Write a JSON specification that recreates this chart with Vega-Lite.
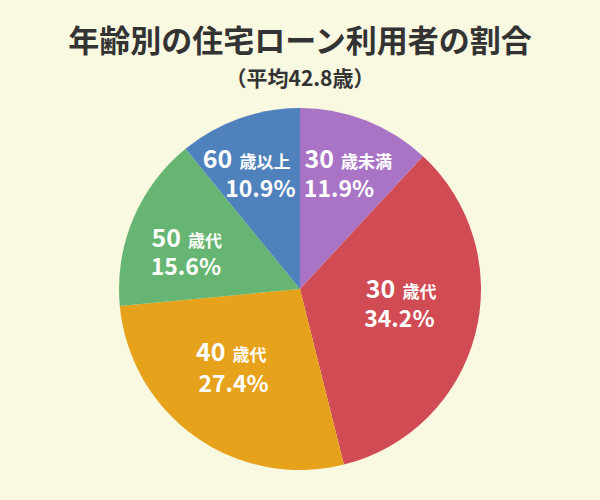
{
  "$schema": "https://vega.github.io/schema/vega-lite/v6.json",
  "width": 600,
  "height": 362,
  "autosize": {"type": "none"},
  "padding": {"top": 108, "left": 0, "right": 0, "bottom": 30},
  "background": "#f9f8e1",
  "title": {
    "text": "年齢別の住宅ローン利用者の割合",
    "subtitle": "（平均42.8歳）",
    "anchor": "middle",
    "font": "Noto Sans CJK JP",
    "fontSize": 31,
    "fontWeight": "bold",
    "color": "#333333",
    "subtitleFont": "Noto Sans CJK JP",
    "subtitleFontSize": 21,
    "subtitleFontWeight": "bold",
    "subtitleColor": "#333333",
    "subtitlePadding": 10,
    "offset": 17
  },
  "config": {
    "view": {"stroke": null},
    "text": {"font": "Noto Sans CJK JP", "fontWeight": "bold", "fill": "#ffffff", "baseline": "alphabetic"}
  },
  "data": {
    "values": [
      {"category": "30歳未満", "num": "30", "kanji": "歳未満", "pct": 11.9, "pctText": "11.9%", "order": 1},
      {"category": "30歳代", "num": "30", "kanji": "歳代", "pct": 34.2, "pctText": "34.2%", "order": 2},
      {"category": "40歳代", "num": "40", "kanji": "歳代", "pct": 27.4, "pctText": "27.4%", "order": 3},
      {"category": "50歳代", "num": "50", "kanji": "歳代", "pct": 15.6, "pctText": "15.6%", "order": 4},
      {"category": "60歳以上", "num": "60", "kanji": "歳以上", "pct": 10.9, "pctText": "10.9%", "order": 5}
    ]
  },
  "encoding": {
    "theta": {"field": "pct", "type": "quantitative", "stack": true},
    "order": {"field": "order", "type": "quantitative"}
  },
  "layer": [
    {
      "mark": {"type": "arc", "radius": 181},
      "encoding": {
        "color": {
          "field": "category",
          "type": "nominal",
          "scale": {
            "domain": ["30歳未満", "30歳代", "40歳代", "50歳代", "60歳以上"],
            "range": ["#a974c5", "#d14b55", "#e6a21b", "#67b572", "#4f81bd"]
          },
          "legend": null
        }
      }
    },
    {"mark": {"type": "text", "radius": 115, "align": "right", "dx": -8, "dy": -14, "fontSize": 25},
     "encoding": {"text": {"condition": {"test": "datum.order === 1", "field": "num"}, "value": ""}}},
    {"mark": {"type": "text", "radius": 115, "align": "left", "dx": -1, "dy": -14, "fontSize": 17},
     "encoding": {"text": {"condition": {"test": "datum.order === 1", "field": "kanji"}, "value": ""}}},
    {"mark": {"type": "text", "radius": 115, "align": "center", "dx": -3, "dy": 15, "fontSize": 23},
     "encoding": {"text": {"condition": {"test": "datum.order === 1", "field": "pctText"}, "value": ""}}},

    {"mark": {"type": "text", "radius": 115, "align": "right", "dx": -16, "dy": -20, "fontSize": 25},
     "encoding": {"text": {"condition": {"test": "datum.order === 2", "field": "num"}, "value": ""}}},
    {"mark": {"type": "text", "radius": 115, "align": "left", "dx": -9, "dy": -20, "fontSize": 17},
     "encoding": {"text": {"condition": {"test": "datum.order === 2", "field": "kanji"}, "value": ""}}},
    {"mark": {"type": "text", "radius": 115, "align": "center", "dx": -12, "dy": 9, "fontSize": 23},
     "encoding": {"text": {"condition": {"test": "datum.order === 2", "field": "pctText"}, "value": ""}}},

    {"mark": {"type": "text", "radius": 115, "align": "right", "dx": -8, "dy": -22, "fontSize": 25},
     "encoding": {"text": {"condition": {"test": "datum.order === 3", "field": "num"}, "value": ""}}},
    {"mark": {"type": "text", "radius": 115, "align": "left", "dx": -1, "dy": -22, "fontSize": 17},
     "encoding": {"text": {"condition": {"test": "datum.order === 3", "field": "kanji"}, "value": ""}}},
    {"mark": {"type": "text", "radius": 115, "align": "center", "dx": 0, "dy": 9, "fontSize": 23},
     "encoding": {"text": {"condition": {"test": "datum.order === 3", "field": "pctText"}, "value": ""}}},

    {"mark": {"type": "text", "radius": 115, "align": "right", "dx": -13, "dy": 2, "fontSize": 25},
     "encoding": {"text": {"condition": {"test": "datum.order === 4", "field": "num"}, "value": ""}}},
    {"mark": {"type": "text", "radius": 115, "align": "left", "dx": -6, "dy": 2, "fontSize": 17},
     "encoding": {"text": {"condition": {"test": "datum.order === 4", "field": "kanji"}, "value": ""}}},
    {"mark": {"type": "text", "radius": 115, "align": "center", "dx": -8, "dy": 30, "fontSize": 23},
     "encoding": {"text": {"condition": {"test": "datum.order === 4", "field": "pctText"}, "value": ""}}},

    {"mark": {"type": "text", "radius": 115, "align": "right", "dx": -29, "dy": -13, "fontSize": 25},
     "encoding": {"text": {"condition": {"test": "datum.order === 5", "field": "num"}, "value": ""}}},
    {"mark": {"type": "text", "radius": 115, "align": "left", "dx": -22, "dy": -13, "fontSize": 17},
     "encoding": {"text": {"condition": {"test": "datum.order === 5", "field": "kanji"}, "value": ""}}},
    {"mark": {"type": "text", "radius": 115, "align": "center", "dx": -1, "dy": 16, "fontSize": 23},
     "encoding": {"text": {"condition": {"test": "datum.order === 5", "field": "pctText"}, "value": ""}}}
  ]
}
